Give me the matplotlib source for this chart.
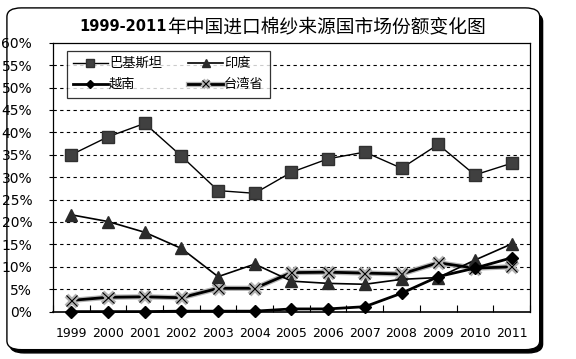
import matplotlib
matplotlib.use("Agg")
import numpy as np
from matplotlib import pyplot as plt
from matplotlib.patches import FancyBboxPatch
import matplotlib.patheffects as pe

plt.rcParams['font.family'] = ['DejaVu Sans', 'Noto Sans CJK SC']

years = ["1999", "2000", "2001", "2002", "2003", "2004", "2005",
         "2006", "2007", "2008", "2009", "2010", "2011"]
pakistan = [35.0, 39.0, 42.0, 34.7, 27.0, 26.4, 31.1, 34.1, 35.6, 32.0, 37.3, 30.5, 33.1]
india = [21.6, 20.1, 17.7, 14.1, 7.8, 10.6, 6.8, 6.3, 6.1, 7.2, 7.6, 11.5, 15.1]
vietnam = [0.0, 0.0, 0.0, 0.1, 0.1, 0.1, 0.6, 0.6, 1.1, 4.1, 7.8, 9.7, 12.0]
taiwan = [2.5, 3.2, 3.3, 3.1, 5.2, 5.2, 8.7, 8.8, 8.6, 8.4, 10.9, 9.7, 10.0]

fig = plt.figure(figsize=(5.76, 3.59), dpi=100)

# rounded frame with a heavy shadow on the right and bottom
shadow = FancyBboxPatch((0.017, 0.017), 0.925, 0.948,
                        boxstyle="round,pad=0,rounding_size=0.025",
                        transform=fig.transFigure, facecolor="black",
                        edgecolor="black", lw=1, zorder=0)
frame = FancyBboxPatch((0.012, 0.026), 0.925, 0.952,
                       boxstyle="round,pad=0,rounding_size=0.025",
                       transform=fig.transFigure, facecolor="white",
                       edgecolor="black", lw=1, zorder=0.5)
fig.patches.extend([shadow, frame])

ax = fig.add_axes([0.092, 0.132, 0.828, 0.749])
ax.set_zorder(2)
x = np.arange(len(years))

h_pak, = ax.plot(x, pakistan, color="black", lw=1, marker="s", ms=8,
                 mfc="#404040", mec="#303030", label="巴基斯坦", zorder=4)
h_ind, = ax.plot(x, india, color="black", lw=1.2, marker="^", ms=9,
                 mfc="#2a2a2a", mec="#2a2a2a", label="印度", zorder=4)
h_vn, = ax.plot(x, vietnam, color="black", lw=2, marker="D", ms=6,
                mfc="black", mec="black", label="越南", zorder=5, clip_on=False)
h_tw, = ax.plot(x, taiwan, color="black", lw=2, marker="x", ms=8, mew=0.8,
                mec="black", label="台湾省", zorder=3,
                path_effects=[pe.Stroke(linewidth=3.8, foreground="#b4b4b4"), pe.Normal()])

ax.set_xlim(-0.5, len(years) - 0.5)
ax.set_ylim(0, 60)
ax.set_xticks(x)
ax.set_xticklabels(years, fontsize=9)
ax.set_xticks(np.arange(len(years) + 1) - 0.5, minor=True)
ax.tick_params(axis="x", which="major", length=0, pad=11)
ax.tick_params(axis="x", which="minor", direction="in", length=5, width=0.8)
ax.set_yticks(np.arange(0, 61, 5))
ax.set_yticklabels([f"{v}%" for v in range(0, 61, 5)], fontsize=10)
ax.tick_params(axis="y", direction="out", length=3, width=0.8, pad=12)
for v in range(5, 60, 5):
    ax.axhline(v, color="black", lw=0.8, ls=(0, (3, 3)), zorder=1)
for s in ax.spines.values():
    s.set_linewidth(0.9)
    s.set_color("black")
ax.spines["bottom"].set_linewidth(1.2)

# column-major order so rows read 巴基斯坦/印度, 越南/台湾省
leg = ax.legend([h_pak, h_vn, h_ind, h_tw], ["巴基斯坦", "越南", "印度", "台湾省"],
                loc="upper left", bbox_to_anchor=(0.015, 0.995), ncol=2,
                frameon=True, fancybox=False, edgecolor="black",
                borderpad=0.5, handlelength=2.6, columnspacing=2.0,
                labelspacing=0.6, handletextpad=0.1, markerscale=0.65,
                prop={"family": ["Noto Sans CJK SC"], "size": 9.5})
leg.get_frame().set_linewidth(0.9)
leg.set_zorder(10)

fig.text(0.290, 0.925, "1999-2011", ha="right", va="center",
         fontsize=10.5, fontweight="bold", family=["DejaVu Sans"])
fig.text(0.290, 0.925, "年中国进口棉纱来源国市场份额变化图", ha="left", va="center",
         fontsize=13.5, family=["Noto Sans CJK SC"])

fig.savefig("out.png", dpi=100, facecolor="white")
